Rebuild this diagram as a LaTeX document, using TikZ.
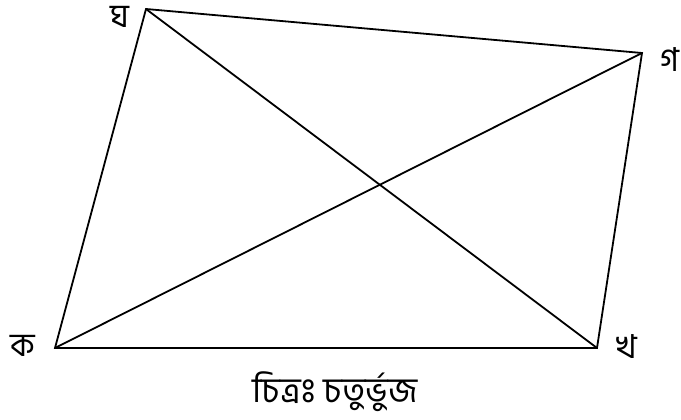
\documentclass[tikz,border=0pt]{standalone}
\usepackage{fontspec}
\newfontfamily\bnfont[Script=Bengali]{Hind Siliguri}
\usetikzlibrary{positioning}

\begin{document}
\begin{tikzpicture}[x=1pt,y=-1pt,
  vlabel/.style={font=\bnfont\fontsize{33}{40}\selectfont,inner sep=0pt},
  edge/.style={line width=1.8pt,line join=miter},
  figcaption/.style={font=\bnfont\fontsize{35}{42}\selectfont,inner sep=0pt}]
\useasboundingbox (0,0) rectangle (681,420);
\coordinate (ka) at (55,348);
\coordinate (kha) at (597,348);
\coordinate (ga) at (642,53);
\coordinate (gha) at (146,9);
\node[vlabel] (lka) at (23,346) {ক};
\node[vlabel] (lkha) at (627,347) {খ};
\node[vlabel] (lga) at (670,60) {গ};
\node[vlabel] (lgha) at (120,17) {ঘ};
% sides
\draw[edge] (ka) -- (kha) -- (ga) -- (gha) -- cycle;
% diagonals
\draw[edge] (ka) -- (ga);
\draw[edge] (gha) -- (kha);
\node[figcaption] (title) at (335,392) {চিত্রঃ চতুর্ভুজ};
\end{tikzpicture}
\end{document}
